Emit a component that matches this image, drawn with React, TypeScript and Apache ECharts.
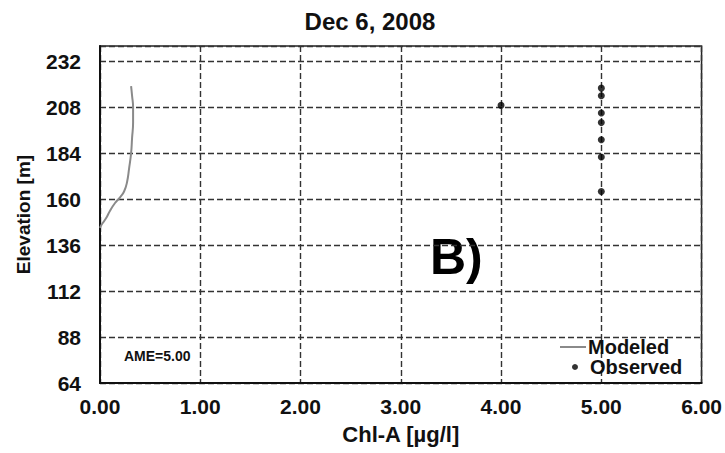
import React, { useEffect, useRef } from "react";
import * as echarts from "echarts";

const titleText = "Dec 6, 2008";
const xTicks = [0, 1, 2, 3, 4, 5, 6];
const yTicks = [64, 88, 112, 136, 160, 184, 208, 232];

// Modeled Chl-A [µg/l] vs elevation [m]
const modeledChl = [0.0, 0.02, 0.06, 0.1, 0.15, 0.2, 0.24, 0.27, 0.29, 0.31, 0.32, 0.33, 0.33, 0.32, 0.31];
const modeledElev = [145, 147, 150, 154, 158, 161, 164, 169, 176, 184, 192, 200, 208, 214, 219];

// Observed
const observedChl = [4.0, 5.0, 5.0, 5.0, 5.0, 5.0, 5.0, 5.0];
const observedElev = [209, 218, 214, 205, 200, 191, 182, 164];

const FONT = "'Liberation Sans', Arial, sans-serif";

export default function App() {
  const ref = useRef<HTMLDivElement>(null);
  useEffect(() => {
    if (!ref.current) return;
    const chart = echarts.init(ref.current, null, { renderer: "svg" });
    const gridLine = { show: true, lineStyle: { color: "#333", width: 1.4, type: [6, 3] as any } };
    chart.setOption({
      animation: false,
      backgroundColor: "#fff",
      title: {
        text: titleText,
        left: 365,
        textAlign: "center",
        top: 4,
        textStyle: { fontFamily: FONT, fontWeight: "bold", fontSize: 24, color: "#111" },
      },
      grid: {
        left: 100,
        right: 18,
        top: 46,
        bottom: 70,
        show: true,
        borderColor: "#222",
        borderWidth: 1.5,
      },
      xAxis: {
        type: "value",
        min: xTicks[0],
        max: xTicks[xTicks.length - 1],
        interval: 1,
        name: "Chl-A [\u00b5g/l]",
        nameLocation: "middle",
        nameGap: 40,
        nameTextStyle: { fontFamily: FONT, fontWeight: "bold", fontSize: 22, color: "#111" },
        axisLine: { show: true, onZero: false, lineStyle: { color: "#111", width: 2 } },
        axisTick: { show: false },
        axisLabel: {
          margin: 13,
          fontFamily: FONT,
          fontWeight: "bold",
          fontSize: 21,
          color: "#111",
          formatter: (v: number) => v.toFixed(2),
        },
        splitLine: gridLine,
      },
      yAxis: {
        type: "value",
        min: yTicks[0],
        max: 240,
        interval: 24,
        name: "Elevation [m]",
        nameLocation: "middle",
        nameGap: 67,
        nameRotate: 90,
        nameTextStyle: { fontFamily: FONT, fontWeight: "bold", fontSize: 19, color: "#111" },
        axisLine: { show: true, onZero: false, lineStyle: { color: "#111", width: 2 } },
        axisTick: { show: false },
        axisLabel: {
          margin: 19,
          fontFamily: FONT,
          fontWeight: "bold",
          fontSize: 21,
          color: "#111",
          formatter: (v: number) => (yTicks.indexOf(v) >= 0 ? String(v) : ""),
        },
        splitLine: gridLine,
      },
      legend: [
        {
          data: [{ name: "Modeled", icon: "path://M0,0 L26,0 L26,2 L0,2 Z" }],
          left: 555,
          top: 332,
          itemWidth: 26,
          itemHeight: 2,
          textStyle: { fontFamily: FONT, fontWeight: "bold", fontSize: 20, color: "#111", padding: [0, 0, 0, -3] },
        },
        {
          data: [{ name: "Observed", icon: "circle" }],
          left: 567,
          top: 352,
          itemWidth: 6,
          itemHeight: 6,
          textStyle: { fontFamily: FONT, fontWeight: "bold", fontSize: 20, color: "#111", padding: [0, 0, 0, 7] },
        },
      ],
      graphic: [
        {
          type: "text",
          left: 430,
          top: 232,
          style: { text: "B)", font: `bold 50px ${FONT}`, fill: "#000" },
        },
        {
          type: "text",
          left: 124,
          top: 349,
          style: { text: "AME=5.00", font: `bold 14px ${FONT}`, fill: "#111" },
        },
      ],
      series: [
        {
          name: "Modeled",
          type: "line",
          data: modeledChl.map((x, i) => [x, modeledElev[i]]),
          symbol: "none",
          smooth: 0.5,
          lineStyle: { color: "#8a8a8a", width: 2 },
          itemStyle: { color: "#8a8a8a" },
        },
        {
          name: "Observed",
          type: "scatter",
          data: observedChl.map((x, i) => [x, observedElev[i]]),
          symbolSize: 7,
          itemStyle: { color: "#000" },
        },
      ],
    });
    return () => chart.dispose();
  }, []);
  return <div ref={ref} style={{ width: 725, height: 453, position: "absolute", left: 0, top: 0 }} />;
}
